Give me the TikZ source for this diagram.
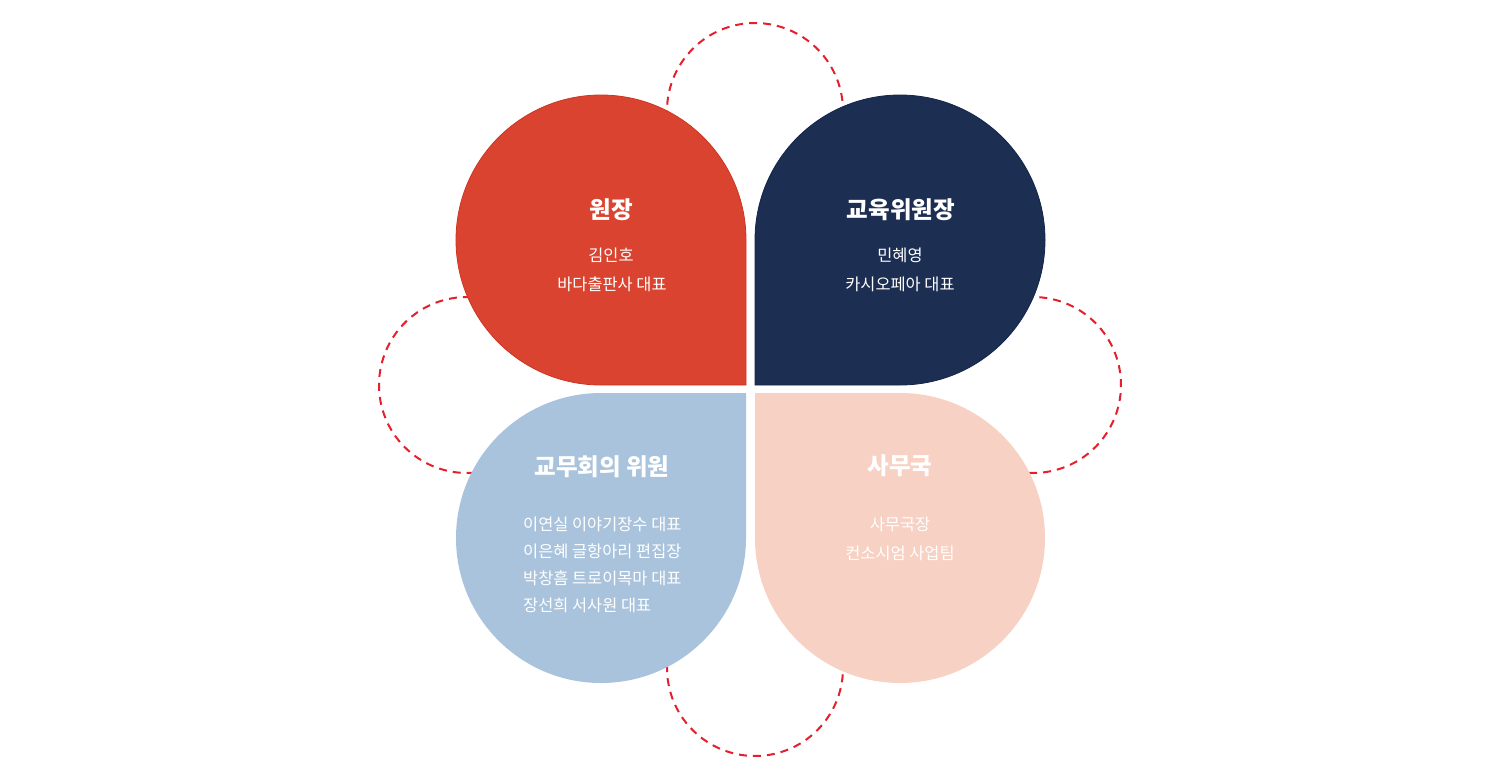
\documentclass[tikz,border=0pt]{standalone}
\usepackage{fontspec}
\setmainfont{Noto Sans CJK KR}
\definecolor{cRed}{HTML}{D9432F}
\definecolor{cRedEdge}{HTML}{CC3522}
\definecolor{cNavy}{HTML}{1C2E52}
\definecolor{cNavyEdge}{HTML}{14244A}
\definecolor{cBlue}{HTML}{A9C3DC}
\definecolor{cPeach}{HTML}{F7D1C3}
\definecolor{cDash}{HTML}{E3202C}
\tikzset{
  dashring/.style={draw=cDash, line width=2pt, dash pattern=on 8pt off 6pt},
  petaltitle/.style={text=white, font=\fontsize{23.5}{27}\selectfont\bfseries, inner sep=0pt, anchor=center},
  petaltext/.style={text=white, font=\fontsize{16.4}{19}\selectfont, inner sep=0pt, anchor=center},
  petaltextl/.style={text=white, font=\fontsize{16.4}{19}\selectfont, inner sep=0pt, anchor=west},
}
\begin{document}
\begin{tikzpicture}[x=1pt,y=-1pt]
\useasboundingbox (0,0) rectangle (1500,780);
% dashed half rings
\draw[dashring] (755,111) ++(175:88) arc[start angle=175,end angle=365,radius=88];
\draw[dashring] (1033,385) ++(-95:88) arc[start angle=-95,end angle=95,radius=88];
\draw[dashring] (467,385) ++(85:88) arc[start angle=85,end angle=275,radius=88];
\draw[dashring] (755,668) ++(-5:88) arc[start angle=-5,end angle=185,radius=88];
% petals
\fill[cRed, draw=cRedEdge, line width=0.8pt] (746,385) -- (601,385) arc[start angle=90,end angle=360,radius=145] -- cycle;
\fill[cNavy, draw=cNavyEdge, line width=0.8pt] (755,385) -- (755,240) arc[start angle=180,end angle=450,radius=145] -- cycle;
\fill[cBlue] (746,393) -- (746,538) arc[start angle=0,end angle=270,radius=145] -- cycle;
\fill[cPeach] (755,393) -- (900,393) arc[start angle=-90,end angle=180,radius=145] -- cycle;
% texts
\node[petaltitle] (t1) at (611,210) {원장};
\node[petaltext] (t1a) at (611,255) {김인호};
\node[petaltext] (t1b) at (612,284) {바다출판사 대표};
\node[petaltitle] (t2) at (901,210) {교육위원장};
\node[petaltext] (t2a) at (900,255) {민혜영};
\node[petaltext] (t2b) at (900,284) {카시오페아 대표};
\node[petaltitle] (t3) at (602,467) {교무회의 위원};
\node[petaltextl] (t3a) at (523,524) {이연실 이야기장수 대표};
\node[petaltextl] (t3b) at (523,551) {이은혜 글항아리 편집장};
\node[petaltextl] (t3c) at (523,578) {박창흠 트로이목마 대표};
\node[petaltextl] (t3d) at (523,605) {장선희 서사원 대표};
\node[petaltitle] (t4) at (900,466) {사무국};
\node[petaltext] (t4a) at (900,524) {사무국장};
\node[petaltext] (t4b) at (900,553) {컨소시엄 사업팀};
\end{tikzpicture}
\end{document}
